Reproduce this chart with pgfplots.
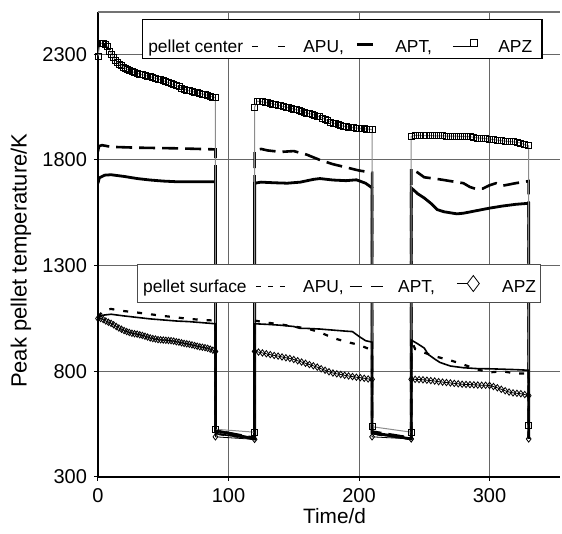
\documentclass[border=0pt]{standalone}
\usepackage{pgfplots}
\pgfplotsset{compat=1.18}
\usepackage{fontspec}
\setmainfont{Liberation Sans}
\begin{document}
\begin{tikzpicture}
\begin{axis}[
  width=231pt, height=232.5pt, scale only axis,
  xmin=0, xmax=354, ymin=300, ymax=2500,
  axis x line*=bottom, axis y line*=left,
  axis line style={line width=0.9pt},
  xtick={0,100,200,300}, ytick={300,800,1300,1800,2300},
  tick align=outside, major tick length=2pt,
  tick style={black, line width=0.5pt},
  grid=major, major grid style={black!60, line width=0.5pt},
  /pgf/number format/assume math mode=true,
  /pgf/number format/set thousands separator={},
  tick label style={font=\fontsize{10}{12}\selectfont},
  xlabel={Time/d}, ylabel={Peak pellet temperature/K},
  every axis x label/.style={at={(axis description cs:0.512,0)}, yshift=-19.5pt, anchor=center, font=\fontsize{10.4}{12}\selectfont},
  every axis y label/.style={at={(axis description cs:0,0.465)}, xshift=-38.5pt, rotate=90, anchor=center, font=\fontsize{11}{13}\selectfont},
]
% pellet center, APU
\addplot[black, line width=1.3pt, dash pattern=on 8pt off 3.5pt] coordinates {
(0,1840)(0.7,1865)(3,1870)(10,1862)(30,1858)(60,1855)(90,1850)
(90,520)(120,485)
(120,1845)(125,1852)(130,1845)(140,1838)(150,1842)(160,1825)(170,1800)(180,1780)(190,1765)(200,1750)(210,1740)
(210,515)(240,485)
(240,1760)(245,1740)(250,1718)(260,1710)(270,1700)(280,1690)(285,1672)(290,1662)(295,1665)(300,1680)(305,1690)(310,1678)(320,1690)(330,1700)
(330,490)};
% pellet center, APT
\addplot[black, line width=1.4pt] coordinates {
(0,1690)(1,1715)(5,1728)(10,1730)(20,1722)(30,1712)(40,1705)(50,1700)(60,1697)(70,1697)(80,1697)(90,1697)
(90,520)(120,480)
(120,1690)(125,1695)(135,1692)(145,1690)(155,1695)(165,1708)(170,1712)(180,1705)(190,1702)(198,1706)(205,1690)(210,1668)
(210,510)(240,480)
(240,1668)(245,1640)(250,1620)(255,1595)(260,1565)(265,1555)(270,1550)(275,1545)(280,1548)(290,1560)(300,1572)(310,1582)(320,1590)(330,1595)
(330,480)};
% pellet center, APZ
\addplot[black!45, line width=0.5pt, mark=square, mark size=1.5pt, mark options={black, line width=0.4pt}] coordinates {
(0,2290)(1.5,2352)(3,2352)(4.5,2350)(6,2345)(7.5,2335)(9,2315)(10.5,2300)(12,2285)(13.5,2272)(15,2262)(16.5,2254)(18,2246)(19.5,2240)(21,2234)(22.5,2228)(24,2224)(26,2218)(28,2214)(30,2210)(32,2207)(34,2203)(36,2200)(38,2197)(40,2194)(42,2190)(44,2187)(46,2183)(48,2179)(50,2175)(52,2170)(54,2166)(56,2161)(58,2156)(60,2151)(62,2146)(64,2140)(66,2135)(68,2131)(70,2127)(72,2124)(74,2121)(76,2118)(78,2115)(80,2112)(82,2109)(84,2106)(86,2102)(88,2098)(90,2095)
(90,526)(120,512)
(120,2050)(122,2078)(124,2077)(126,2075)(128,2072)(130,2070)(132,2068)(134,2065)(136,2062)(138,2059)(140,2056)(142,2053)(144,2050)(146,2047)(148,2044)(150,2041)(152,2038)(154,2034)(156,2030)(158,2026)(160,2022)(162,2019)(164,2016)(166,2012)(168,2008)(170,2004)(172,1998)(174,1992)(176,1986)(178,1980)(180,1975)(182,1971)(184,1967)(186,1963)(188,1960)(190,1958)(192,1956)(194,1954)(196,1952)(198,1951)(200,1950)(202,1948)(204,1947)(206,1946)(208,1945)(210,1944)
(210,538)(240,512)
(240,1912)(243,1916)(246,1916)(249,1915)(252,1915)(255,1915)(258,1914)(261,1914)(264,1914)(267,1913)(270,1913)(273,1913)(276,1912)(279,1912)(282,1911)(285,1910)(288,1907)(291,1904)(294,1903)(297,1901)(300,1899)(303,1896)(306,1894)(309,1891)(312,1889)(315,1887)(318,1886)(321,1884)(324,1880)(327,1872)(330,1868)
(330,545)};
% pellet surface, APU
\addplot[black, line width=1.1pt, dash pattern=on 2.5pt off 4.5pt] coordinates {
(0,1060)(5,1090)(10,1095)(20,1085)(30,1078)(40,1070)(50,1062)(60,1055)(70,1048)(80,1043)(90,1040)
(90,505)(120,480)
(120,1040)(130,1030)(140,1022)(150,1012)(160,1003)(170,985)(180,958)(190,940)(200,925)(210,900)
(210,505)(240,480)
(240,950)(243,905)(250,888)(260,868)(270,852)(280,832)(290,810)(300,795)(310,800)(320,790)(330,790)
(330,490)};
% pellet surface, APT
\addplot[black, line width=0.8pt] coordinates {
(0,1050)(3,1065)(10,1070)(20,1062)(30,1055)(40,1048)(50,1043)(60,1038)(70,1035)(80,1030)(90,1025)
(90,505)(120,480)
(120,1025)(130,1022)(140,1018)(150,1012)(155,1003)(160,1003)(170,1000)(180,995)(190,990)(195,988)(200,965)(205,945)(210,938)
(210,505)(240,480)
(240,948)(245,930)(250,910)(253,880)(258,858)(262,842)(270,825)(280,817)(290,813)(300,812)(310,810)(320,808)(330,805)
(330,490)};
% pellet surface, APZ
\addplot[black, line width=0.4pt, mark=diamond, mark size=1.6pt, mark options={black, line width=0.4pt}] coordinates {
(0,1050)(2,1050)(4,1045)(6,1038)(8,1032)(10,1027)(12,1020)(14,1012)(16,1005)(18,999)(20,993)(22,988)(24,984)(26,980)(28,978)(30,976)(32,973)(34,970)(36,966)(38,962)(40,958)(42,955)(44,953)(46,950)(48,949)(50,948)(52,947)(54,946)(56,945)(58,943)(60,940)(62,938)(64,935)(66,932)(68,930)(70,928)(72,925)(74,922)(76,919)(78,916)(80,914)(82,912)(84,909)(86,905)(88,900)(90,894)
(90,490)(120,478)
(120,894)(123,891)(126,887)(129,883)(132,879)(135,875)(138,872)(141,868)(144,864)(147,861)(150,856)(153,850)(156,844)(159,838)(162,832)(165,826)(168,820)(171,812)(174,805)(177,798)(180,792)(183,788)(186,785)(189,781)(192,778)(195,775)(198,772)(201,770)(204,767)(207,764)(210,762)
(210,490)(240,480)
(240,762)(243,762)(246,761)(249,760)(252,758)(255,756)(258,754)(261,751)(264,749)(267,747)(270,745)(273,743)(276,741)(279,739)(282,738)(285,737)(288,736)(291,735)(294,734)(297,734)(300,733)(303,728)(306,722)(309,715)(312,708)(315,702)(318,698)(321,696)(324,694)(327,690)(330,685)
(330,480)};
\coordinate (BL) at (rel axis cs:0,0);
\coordinate (TL) at (rel axis cs:0,1);
\coordinate (TR) at (rel axis cs:1,1);
\coordinate (LA) at (axis cs:34.4,2465);
\coordinate (LB) at (axis cs:30.5,1305);
\end{axis}
\draw[black!55, line width=0.6pt] (TL) -- (TR);
% legend: pellet center
\begin{scope}[shift={(LA)}, every node/.style={font=\fontsize{8.7}{10}\selectfont, inner sep=0pt, anchor=base west}]
\draw[fill=white, line width=0.6pt] (0,0) rectangle (199.5pt,-19.5pt);
\node at (2.5pt,-16.5pt) {pellet center};
\draw[line width=0.6pt] (54.5pt,-13.5pt) -- (57.5pt,-13.5pt) (67.5pt,-13.5pt) -- (71pt,-13.5pt);
\node at (80pt,-16.5pt) {APU,};
\draw[line width=1.4pt] (107pt,-12.5pt) -- (115pt,-12.5pt);
\node at (126pt,-16.5pt) {APT,};
\draw[line width=0.6pt] (155pt,-13.5pt) -- (163.5pt,-13.5pt);
\draw[line width=0.4pt] (163.5pt,-13.75pt) rectangle (167pt,-10.25pt);
\node at (177.5pt,-16.5pt) {APZ};
\end{scope}
% legend: pellet surface
\begin{scope}[shift={(LB)}, every node/.style={font=\fontsize{8.7}{10}\selectfont, inner sep=0pt, anchor=base west}]
\draw[fill=white, line width=0.6pt, draw=black!70] (0,0) rectangle (201.5pt,-19pt);
\node at (2.5pt,-14pt) {pellet surface};
\draw[line width=0.6pt] (59pt,-11pt) -- (61.5pt,-11pt) (65pt,-11pt) -- (67.5pt,-11pt) (71pt,-11pt) -- (73.5pt,-11pt);
\node at (82.5pt,-14pt) {APU,};
\draw[line width=0.6pt] (106pt,-11pt) -- (112pt,-11pt) (116.5pt,-11pt) -- (122.5pt,-11pt);
\node at (130pt,-14pt) {APT,};
\draw[line width=0.6pt] (159.5pt,-9.5pt) -- (164.75pt,-9.5pt);
\draw[line width=0.4pt] (164.75pt,-9.5pt) -- (167.75pt,-5.5pt) -- (170.75pt,-9.5pt) -- (167.75pt,-13.5pt) -- cycle;
\node at (182pt,-14pt) {APZ};
\end{scope}
\pgfresetboundingbox
\path ([shift={(-49pt,-28.5pt)}]BL) rectangle ([shift={(232pt,238.5pt)}]BL);
\end{tikzpicture}
\end{document}
